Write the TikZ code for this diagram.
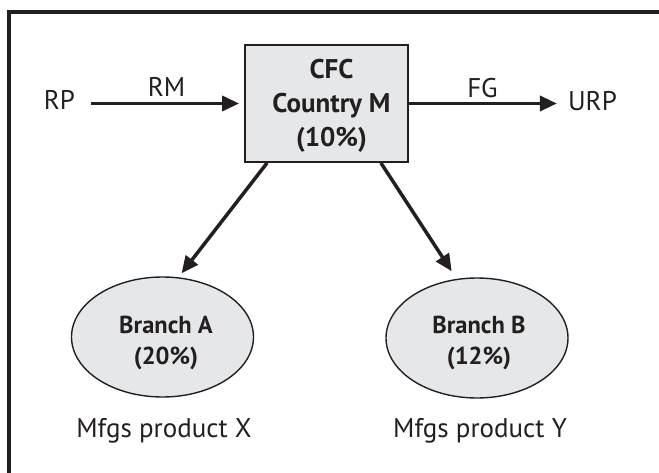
\documentclass[tikz,border=0pt]{standalone}
\usepackage{fontspec}
\setmainfont{PT Sans}
\usetikzlibrary{arrows.meta,shapes.geometric}
\definecolor{ink}{HTML}{231F20}
\definecolor{boxfill}{HTML}{E6E7E8}
\tikzset{
  plain/.style={font=\fontsize{27}{32}\selectfont, text=ink, inner sep=2pt},
  boldtxt/.style={font=\bfseries\fontsize{27}{34}\selectfont, text=ink, align=center},
  branchtxt/.style={font=\bfseries\fontsize{24.5}{31}\selectfont, text=ink, align=center},
  entity/.style={draw=ink, line width=1.8pt, fill=boxfill, minimum width=163pt, minimum height=117pt, inner sep=0pt},
  branch/.style={ellipse, draw=ink, line width=1.4pt, fill=boxfill, minimum width=182pt, minimum height=120pt, inner sep=0pt},
  arr/.style={draw=ink, line width=3.5pt, -{Triangle[length=17pt,width=15pt]}},
}
\begin{document}
\begin{tikzpicture}[x=1pt,y=1pt]
\useasboundingbox (0,0) rectangle (659,472);
% frame (top and left edges)
\draw[ink, line width=3.5pt, line join=miter] (9,-5) -- (9,460) -- (665,460);

% controlled foreign company
\node[entity] (cfc) at (326.5,368.5) {};
\node[boldtxt] (cfct) at (331.5,366) {CFC\\Country M\\(10\%)};

% related and unrelated parties
\node[plain, anchor=base] (rp) at (59.5,362) {RP};
\node[plain, anchor=base] (urp) at (592.5,361) {URP};
\node[plain, anchor=base] (rm) at (166.5,375) {RM};
\node[plain, anchor=base] (fg) at (482.5,374) {FG};

% branches
\node[branch] (a) at (162.5,135) {};
\node[branchtxt] (at) at (166,129) {Branch A\\(20\%)};
\node[branch] (b) at (477,134) {};
\node[branchtxt] (bt) at (479,129) {Branch B\\(12\%)};

\node[plain, anchor=base] (px) at (164,35) {Mfgs product X};
\node[plain, anchor=base] (py) at (480,35) {Mfgs product Y};

% flows
\draw[arr, shorten <=14pt, shorten >=5pt] (rp.east |- cfc.west) -- (cfc.west);
\draw[arr, shorten >=9pt] (cfc.east) -- (cfc.east -| urp.west);
\draw[arr, shorten >=5pt] ([xshift=23pt]cfc.south west) -- (a.75);
\draw[arr, shorten >=9pt] ([xshift=-28pt]cfc.south east) -- (b.109);
\end{tikzpicture}
\end{document}
